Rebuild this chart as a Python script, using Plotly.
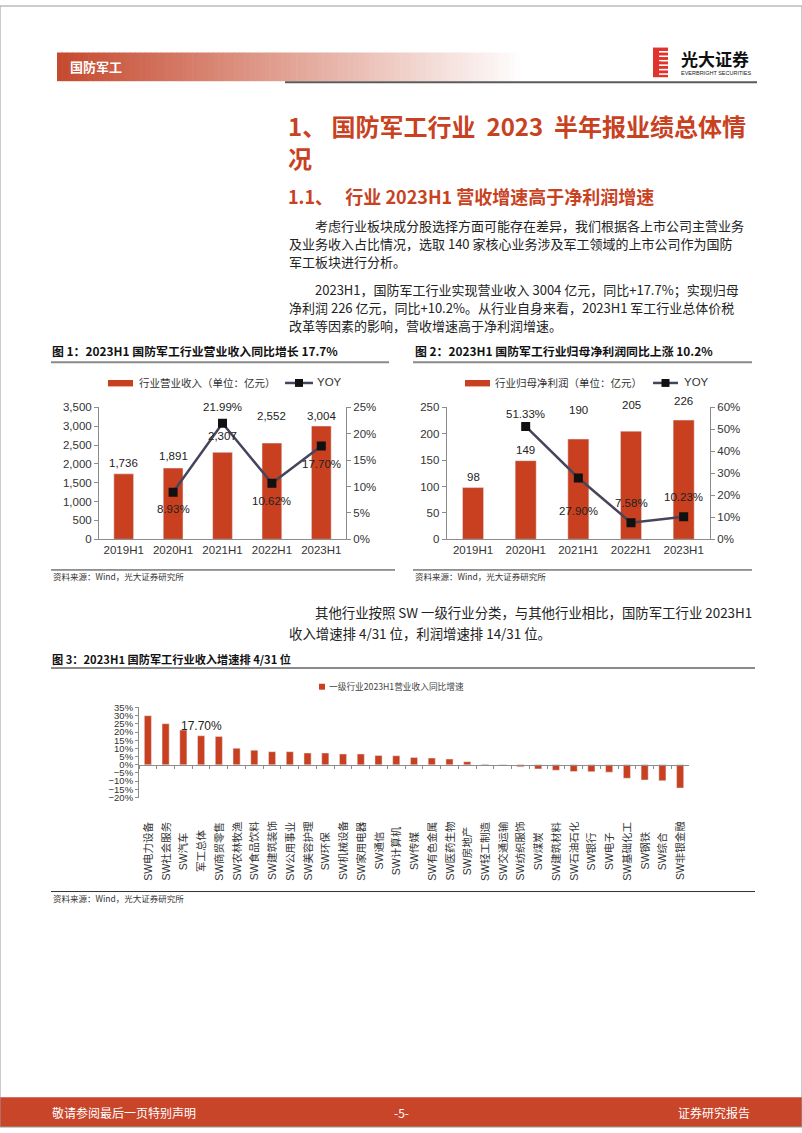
import plotly.graph_objects as go

W, H = 802, 1133

# ---------------- data ----------------
periods = ["2019H1", "2020H1", "2021H1", "2022H1", "2023H1"]
revenue = [1736, 1891, 2307, 2552, 3004]
revenue_yoy = [None, 8.93, 21.99, 10.62, 17.70]
profit = [98, 149, 190, 205, 226]
profit_yoy = [None, 51.33, 27.90, 7.58, 10.23]

sw_names = ["SW电力设备", "SW社会服务", "SW汽车", "军工总体", "SW商贸零售", "SW农林牧渔",
            "SW食品饮料", "SW建筑装饰", "SW公用事业", "SW美容护理", "SW环保", "SW机械设备",
            "SW家用电器", "SW通信", "SW计算机", "SW传媒", "SW有色金属", "SW医药生物",
            "SW房地产", "SW轻工制造", "SW交通运输", "SW纺织服饰", "SW煤炭", "SW建筑材料",
            "SW石油石化", "SW银行", "SW电子", "SW基础化工", "SW钢铁", "SW综合", "SW非银金融"]
sw_growth = [30.0, 25.1, 21.2, 17.7, 17.3, 10.1, 8.9, 8.0, 8.0, 7.2, 7.2, 6.6,
             6.6, 5.7, 5.5, 4.5, 4.1, 3.5, 1.9, 0.4, 0.2, -1.2, -2.5, -3.3,
             -4.1, -4.2, -4.5, -8.2, -9.3, -9.7, -14.2]

# label offsets (px above/below the point), styling only
rev_lbl_dy = [11, 12, 16, 27, 10]
rev_yoy_dy = [0, -17, 16, -18, -18]
pro_lbl_dy = [11, 11, 29, 26, 19]
pro_yoy_dy = [0, 12, -33, 20, 20]

BAR = "#C8401F"
LINE = "#45455E"
RED = "#C8421F"
CN = "Noto Sans CJK SC"
AR = "Liberation Sans, Arial, Noto Sans CJK SC"


def px(x):
    return x / W


def py(y):
    return 1 - y / H


shapes = []
annots = []


def txt(x, y, s, size=13, color="#222", anchor="left", family=CN, bold=False):
    annots.append(dict(x=px(x), y=py(y), xref="paper", yref="paper", text=f"<b>{s}</b>" if bold else s,
                       showarrow=False, xanchor=anchor, yanchor="middle",
                       font=dict(size=size, color=color, family=family)))


def rect(x0, y0, x1, y1, fill, line=None):
    shapes.append(dict(type="rect", xref="paper", yref="paper", x0=px(x0), x1=px(x1),
                       y0=py(y0), y1=py(y1), fillcolor=fill,
                       line=dict(width=0) if line is None else line, layer="above"))


def hline(x0, x1, y, color="#333", width=1):
    shapes.append(dict(type="line", xref="paper", yref="paper", x0=px(x0), x1=px(x1),
                       y0=py(y), y1=py(y), line=dict(color=color, width=width)))


fig = go.Figure()

# ---------------- chart 1 ----------------
fig.add_trace(go.Bar(x=periods, y=revenue, marker_color=BAR, width=0.4,
                     xaxis="x", yaxis="y", showlegend=False))
fig.add_trace(go.Scatter(x=periods, y=revenue_yoy, mode="lines+markers",
                         line=dict(color=LINE, width=2.5),
                         marker=dict(symbol="square", size=9, color="#111"),
                         xaxis="x", yaxis="y2", showlegend=False))

# ---------------- chart 2 ----------------
fig.add_trace(go.Bar(x=periods, y=profit, marker_color=BAR, width=0.4,
                     xaxis="x2", yaxis="y3", showlegend=False))
fig.add_trace(go.Scatter(x=periods, y=profit_yoy, mode="lines+markers",
                         line=dict(color=LINE, width=2.5),
                         marker=dict(symbol="square", size=9, color="#111"),
                         xaxis="x2", yaxis="y4", showlegend=False))

# ---------------- chart 3 ----------------
fig.add_trace(go.Bar(x=sw_names, y=sw_growth, marker_color=BAR, width=0.4,
                     xaxis="x3", yaxis="y5", showlegend=False))

for i, p in enumerate(periods):
    annots.append(dict(x=p, y=revenue[i], xref="x", yref="y", text=f"{revenue[i]:,}",
                       showarrow=False, yanchor="middle", yshift=rev_lbl_dy[i],
                       font=dict(size=11.5, color="#222", family=AR)))
    annots.append(dict(x=p, y=profit[i], xref="x2", yref="y3", text=f"{profit[i]}",
                       showarrow=False, yanchor="middle", yshift=pro_lbl_dy[i],
                       font=dict(size=11.5, color="#222", family=AR)))
    if revenue_yoy[i] is not None:
        annots.append(dict(x=p, y=revenue_yoy[i], xref="x", yref="y2", text=f"{revenue_yoy[i]:.2f}%",
                           showarrow=False, yanchor="middle", yshift=rev_yoy_dy[i],
                           font=dict(size=11.5, color="#222", family=AR)))
    if profit_yoy[i] is not None:
        annots.append(dict(x=p, y=profit_yoy[i], xref="x2", yref="y4", text=f"{profit_yoy[i]:.2f}%",
                           showarrow=False, yanchor="middle", yshift=pro_yoy_dy[i],
                           font=dict(size=11.5, color="#222", family=AR)))

annots.append(dict(x="军工总体", y=sw_growth[3], xref="x3", yref="y5", text=f"{sw_growth[3]:.2f}%",
                   showarrow=False, yanchor="middle", yshift=10,
                   font=dict(size=12, color="#222", family=AR)))
for n in sw_names:
    annots.append(dict(x=n, y=py(854), xref="x3", yref="paper", text=n, textangle=-90,
                       showarrow=False, xanchor="center", yanchor="middle",
                       font=dict(size=10.5, color="#333", family=AR)))

# ---------------- axes ----------------
axcol = "#8C8C8C"
tf = dict(size=11.5, color="#333", family=AR)
c1_y = [py(539), py(405.7)]
c2_y = c1_y
c3_y = [py(800), py(709)]
zero_pos = c3_y[0] + (0 - (-20)) / 55 * (c3_y[1] - c3_y[0])

common_x = dict(type="category", showline=True, linecolor=axcol, linewidth=1, ticks="",
                showgrid=False, tickfont=tf, range=[-0.5, 4.5], fixedrange=True)
common_y = dict(showline=True, linecolor=axcol, linewidth=1, ticks="outside", ticklen=4,
                tickcolor=axcol, showgrid=False, zeroline=False, tickfont=tf)

fig.update_layout(
    xaxis=dict(domain=[px(99), px(346)], anchor="y", **common_x),
    yaxis=dict(domain=c1_y, anchor="x", range=[0, 3500], dtick=500, tickformat=",", **common_y),
    yaxis2=dict(overlaying="y", side="right", anchor="x", range=[0, 25], dtick=5,
                ticksuffix="%", **common_y),
    xaxis2=dict(domain=[px(446.7), px(710)], anchor="y3", **common_x),
    yaxis3=dict(domain=c2_y, anchor="x2", range=[0, 250], dtick=50, **common_y),
    yaxis4=dict(overlaying="y3", side="right", anchor="x2", range=[0, 60], dtick=10,
                ticksuffix="%", **common_y),
    xaxis3=dict(domain=[px(139), px(689)], anchor="free", position=zero_pos, type="category",
                showline=True, linecolor=axcol, ticks="outside", ticklen=3, tickcolor=axcol,
                tickson="boundaries", showticklabels=False, showgrid=False,
                range=[-0.5, len(sw_names) - 0.5]),
    yaxis5=dict(domain=c3_y, anchor="x3", range=[-20, 35], dtick=5, ticksuffix="%",
                showline=True, linecolor=axcol, ticks="outside", ticklen=3, tickcolor=axcol,
                showgrid=False, zeroline=False,
                tickfont=dict(size=9.5, color="#333", family=AR)),
)

# ---------------- page decoration ----------------
# header gradient band
n_strips = 90
x_a, x_b = 57, 525
for k in range(n_strips):
    t = k / (n_strips - 1)
    r = int(198 + (255 - 198) * t)
    g = int(74 + (255 - 74) * t)
    b = int(47 + (255 - 47) * t)
    xa = x_a + (x_b - x_a) * k / n_strips
    xb = x_a + (x_b - x_a) * (k + 1) / n_strips + 0.6
    shapes.append(dict(type="rect", xref="paper", yref="paper", x0=px(xa), x1=px(xb),
                       y0=py(76), y1=py(47), fillcolor=f"rgb({r},{g},{b})",
                       line=dict(width=0), layer="below"))
txt(68, 61.5, "国防军工", size=13, color="white", bold=True)
hline(285, 757, 77, color="#5A5A5A", width=2)

# logo
rect(653, 42, 668, 72, "#E0332B")
for yy in [46.5, 51, 55.5, 60, 64.5, 69]:
    rect(659, yy - 1, 668, yy + 0.6, "white")
rect(653, 56, 661, 58, "#E0332B")
txt(679, 53, "光大证券", size=17, color="#111", bold=True)
txt(679, 67.5, "EVERBRIGHT SECURITIES", size=5.5, color="#222", family=AR)

# headings
txt(286, 121, "1、\u00a0国防军工行业\u00a0\u00a02023\u00a0\u00a0半年报业绩总体情", size=24, color=RED, bold=True)
txt(286, 153, "况", size=24, color=RED, bold=True)
txt(286, 192, "1.1、\u00a0\u00a0\u00a0行业 2023H1 营收增速高于净利润增速", size=18, color=RED, bold=True)

# body text
txt(313, 222, "考虑行业板块成分股选择方面可能存在差异，我们根据各上市公司主营业务")
txt(287, 240.5, "及业务收入占比情况，选取 140 家核心业务涉及军工领域的上市公司作为国防")
txt(287, 258.5, "军工板块进行分析。")
txt(313, 287, "2023H1，国防军工行业实现营业收入 3004 亿元，同比+17.7%；实现归母")
txt(287, 305, "净利润 226 亿元，同比+10.2%。从行业自身来看，2023H1 军工行业总体价税")
txt(287, 323, "改革等因素的影响，营收增速高于净利润增速。")
txt(313, 612, "其他行业按照 SW 一级行业分类，与其他行业相比，国防军工行业 2023H1", size=13.4)
txt(287, 633.5, "收入增速排 4/31 位，利润增速排 14/31 位。", size=13.4)

# figure titles
txt(50, 348, "图 1：2023H1 国防军工行业营业收入同比增长 17.7%", size=11.9, color="#111", bold=True)
hline(51, 389, 360, color="#8A8A8A", width=2)
txt(413, 348, "图 2：2023H1 国防军工行业归母净利润同比上涨 10.2%", size=11.9, color="#111", bold=True)
hline(413, 752, 360, color="#8A8A8A", width=2)
txt(50, 660, "图 3：2023H1 国防军工行业收入增速排 4/31 位", size=11.2, color="#111", bold=True)
hline(51, 755, 669, color="#8A8A8A", width=2)

# sources
hline(51, 395, 570, color="#333", width=1)
txt(51, 576, "资料来源：Wind，光大证券研究所", size=8.5, color="#333")
hline(413, 752, 570, color="#333", width=1)
txt(413, 576, "资料来源：Wind，光大证券研究所", size=8.5, color="#333")
hline(51, 755, 895, color="#333", width=1)
txt(51, 902, "资料来源：Wind，光大证券研究所", size=8.5, color="#333")

# custom legends
rect(108, 378, 133, 384.5, BAR)
txt(137, 381, "行业营业收入（单位：亿元）", size=10.5, color="#333")
hline(285, 313, 381, color=LINE, width=2.5)
rect(295, 377, 303, 385, "#111")
txt(315, 380.5, "YOY", size=11.5, color="#333", family=AR)

rect(465, 378, 490, 384.5, BAR)
txt(493, 381, "行业归母净利润（单位：亿元）", size=10.5, color="#333")
hline(653, 678, 381, color=LINE, width=2.5)
rect(661.5, 377, 669.5, 385, "#111")
txt(682, 380.5, "YOY", size=11.5, color="#333", family=AR)

rect(319, 685, 325, 691, BAR)
txt(327, 688, "一级行业2023H1营业收入同比增速", size=8.7, color="#444")

# footer
rect(0, 1103, W, H, "#C8452A")
txt(50, 1118, "敬请参阅最后一页特别声明", size=12, color="white")
txt(401, 1118, "-5-", size=12, color="white", anchor="center")
txt(752, 1118, "证券研究报告", size=12, color="white", anchor="right")

# page frame
shapes.append(dict(type="rect", xref="paper", yref="paper", x0=0, x1=1, y0=0, y1=1,
                   line=dict(color="#9A9A9A", width=1), layer="above"))

fig.update_layout(
    width=W, height=H, autosize=False,
    margin=dict(l=0, r=0, t=0, b=0),
    paper_bgcolor="white", plot_bgcolor="white",
    shapes=shapes, annotations=annots,
    font=dict(family=CN),
)

fig.write_html("out.html", config={"displayModeBar": False},
               post_script="document.body.style.margin='0';document.body.style.overflow='hidden';")
